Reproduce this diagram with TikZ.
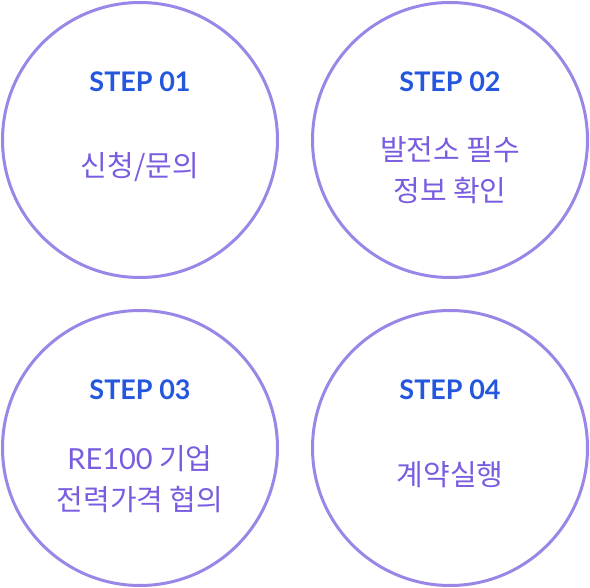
\documentclass[tikz,border=0pt]{standalone}
\usepackage{fontspec}
\setmainfont{Lato}
\newfontfamily\kofont{Noto Sans CJK KR}
\usetikzlibrary{positioning}
\definecolor{ringline}{HTML}{9A86E6}
\definecolor{stepblue}{HTML}{2456DE}
\definecolor{steptext}{HTML}{7A5CE0}

\tikzset{
  ring/.style={draw=ringline,line width=3pt,circle,minimum size=275pt,inner sep=0pt},
  steplabel/.style={text=stepblue,font=\fontsize{27}{30}\selectfont\bfseries,inner sep=0pt},
  stepname/.style={text=steptext,font=\fontsize{29}{41}\selectfont\kofont,align=center,inner sep=0pt}
}

\begin{document}
\begin{tikzpicture}[x=1pt,y=-1pt]
  \useasboundingbox (0,0) rectangle (590,588);
  % circles
  \node[ring] (ring1) at (140,140) {};
  \node[ring] (ring2) at (450,140) {};
  \node[ring] (ring3) at (140,448) {};
  \node[ring] (ring4) at (450,448) {};

  % step numbers
  \node[steplabel] (lab1) at ([yshift=58pt]ring1.center) {STEP 01};
  \node[steplabel] (lab2) at ([yshift=58pt]ring2.center) {STEP 02};
  \node[steplabel] (lab3) at ([yshift=58pt]ring3.center) {STEP 03};
  \node[steplabel] (lab4) at ([yshift=58pt]ring4.center) {STEP 04};

  % step names
  \node[stepname] (name1) at ([yshift=-27pt]ring1.center) {신청/문의};
  \node[stepname] (name2) at ([yshift=-30pt]ring2.center) {발전소 필수\\정보 확인};
  \node[stepname] (name3) at ([yshift=-31pt]ring3.center) {{\fontspec{Lato}RE100} 기업\\전력가격 협의};
  \node[stepname] (name4) at ([yshift=-27pt]ring4.center) {계약실행};
\end{tikzpicture}
\end{document}
